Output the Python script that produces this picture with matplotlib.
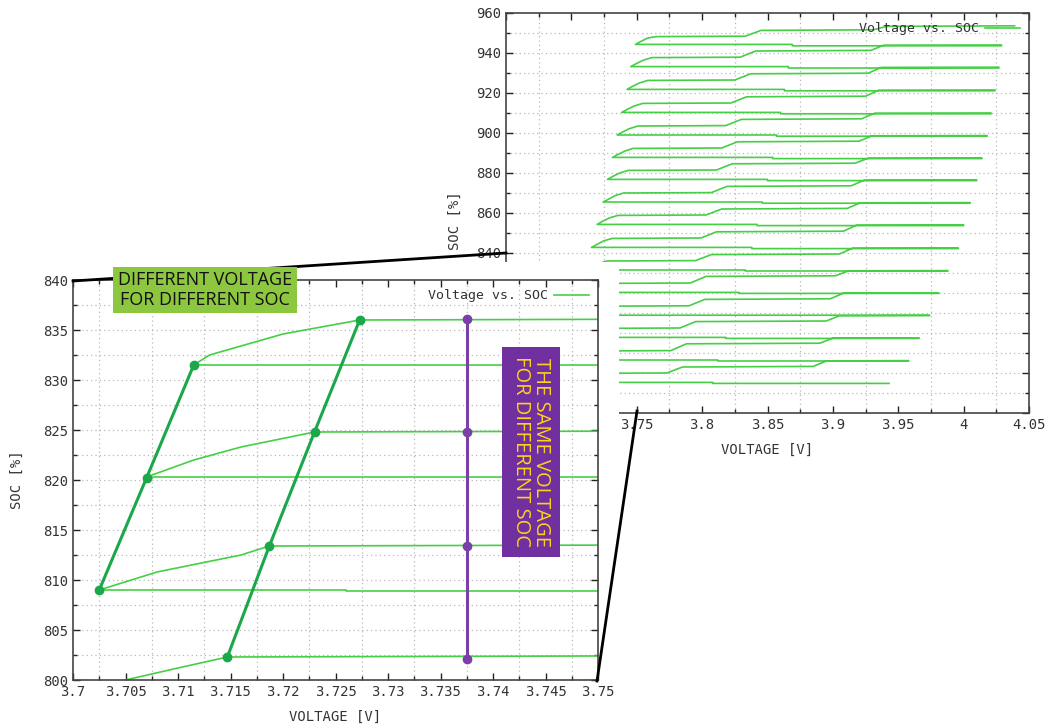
import matplotlib
matplotlib.use('Agg')
import matplotlib.pyplot as plt
from matplotlib.patches import Rectangle
from matplotlib.lines import Line2D
import numpy as np

# ---------------- data ----------------
# SOC level of each relaxation (horizontal) line and the voltage it relaxes to
soc_level = [775.3, 786.5, 797.8, 809.0, 820.3, 831.5, 842.8, 854.3, 865.5,
             876.8, 887.8, 899.0, 910.3, 921.8, 933.2, 944.3]
v_rest = [3.6890, 3.6935, 3.6980, 3.7025, 3.7070, 3.7115, 3.7154, 3.7197, 3.7243,
          3.7276, 3.7314, 3.7350, 3.7385, 3.7426, 3.7454, 3.7490]
# voltage where each relaxation line starts (right end), where it steps, and step size
v_high = [3.943, 3.958, 3.966, 3.974, 3.981, 3.988, 3.996, 4.000, 4.005,
          4.010, 4.014, 4.018, 4.021, 4.024, 4.027, 4.029]
relax_step_v = [3.808, 3.812, 3.818, 3.726, 3.828, 3.833, 3.838, 3.842, 3.846,
                3.850, 3.854, 3.857, 3.860, 3.863, 3.866, 3.869]
relax_drop = [0.5, 0.5, 0.5, 0.1, 0.5, 0.5, 0.6, 0.6, 0.6,
              0.6, 0.6, 0.6, 0.7, 0.7, 0.7, 0.7]
# charge curve break points (one per level)
kink1_v = [3.6945, 3.6990, 3.7050, 3.7080, 3.7115, 3.7130, 3.7200, 3.7240, 3.7290,
           3.7320, 3.7360, 3.7395, 3.7430, 3.7470, 3.7500, 3.7535]
kink1_soc = [776.9, 788.1, 800.0, 810.8, 822.0, 832.5, 844.4, 855.9, 867.1,
             878.4, 889.4, 900.6, 911.9, 923.4, 934.8, 945.9]
kink2_v = [3.7025, 3.7070, 3.7100, 3.7160, 3.7160, 3.7200, 3.7245, 3.7290, 3.7335,
           3.7370, 3.7410, 3.7445, 3.7480, 3.7520, 3.7550, 3.7585]
kink2_soc = [778.5, 789.8, 801.2, 812.5, 823.3, 834.6, 846.0, 857.5, 868.7,
             880.0, 891.0, 902.2, 913.5, 925.0, 936.4, 947.5]
knee_v = [3.7052, 3.7097, 3.7147, 3.7187, 3.7230, 3.7273, 3.7312, 3.7355, 3.7400,
          3.7435, 3.7472, 3.7510, 3.7545, 3.7585, 3.7615, 3.7650]
knee_soc = [779.8, 791.0, 802.3, 813.4, 824.8, 836.0, 847.3, 858.8, 870.0,
            881.3, 892.3, 903.5, 914.8, 926.3, 937.7, 948.2]
rise1_v = [3.773, 3.776, 3.783, 3.790, 3.791, 3.795, 3.799, 3.803, 3.807,
           3.811, 3.815, 3.818, 3.822, 3.825, 3.829, 3.833]
rise1_soc = [783.0, 794.6, 805.7, 816.8, 828.3, 839.2, 850.6, 862.0, 873.3,
             884.6, 895.6, 906.8, 918.1, 929.6, 941.0, 951.3]
rise2_v = [3.885, 3.890, 3.895, 3.898, 3.902, 3.905, 3.908, 3.911, 3.914,
           3.917, 3.920, 3.922, 3.925, 3.927, 3.929, 3.931]
rise2_soc = [786.0, 797.4, 808.6, 819.9, 831.1, 842.4, 853.9, 865.1, 876.4,
             887.4, 898.6, 909.9, 921.4, 932.8, 943.9, 953.3]
last_v = [3.958, 3.966, 3.974, 3.981, 3.988, 3.996, 4.000, 4.005, 4.010,
          4.014, 4.018, 4.021, 4.024, 4.027, 4.029, 4.039]
last_soc = [786.2, 797.5, 808.7, 820.0, 831.2, 842.5, 854.0, 865.2, 876.5,
            887.5, 898.7, 910.0, 921.5, 932.9, 944.0, 953.6]

# highlighted points
diff_v = [3.7025, 3.7070, 3.7115]
diff_soc = [809.0, 820.2, 831.5]
diff2_v = [3.7147, 3.7187, 3.7230, 3.7273]
diff2_soc = [802.3, 813.4, 824.8, 836.0]
same_v = [3.7375, 3.7375, 3.7375, 3.7375]
same_soc = [802.1, 813.4, 824.8, 836.1]

top_xlabels = ['', '', '3.75', '3.8', '3.85', '3.9', '3.95', '4', '4.05']
top_ylabels = ['', '', '', '', '840', '860', '880', '900', '920', '940', '960']
in_xlabels = ['3.7', '3.705', '3.71', '3.715', '3.72', '3.725', '3.73', '3.735',
              '3.74', '3.745', '3.75']
in_ylabels = ['800', '805', '810', '815', '820', '825', '830', '835', '840']

# ---------------- build the trace ----------------
tv, ts = [], []
for k in range(len(soc_level)):
    s = soc_level[k]
    # relaxation: from high voltage down to rest voltage at constant SOC
    tv += [v_high[k], relax_step_v[k], relax_step_v[k], v_rest[k]]
    ts += [s - relax_drop[k], s - relax_drop[k], s, s]
    # charge
    tv += [kink1_v[k], kink2_v[k], knee_v[k], rise1_v[k], rise1_v[k] + 0.012,
           rise2_v[k], rise2_v[k] + 0.010, last_v[k]]
    ts += [kink1_soc[k], kink2_soc[k], knee_soc[k], knee_soc[k] + 0.2, rise1_soc[k],
           rise1_soc[k] + 0.3, rise2_soc[k], last_soc[k]]

W, H = 1057, 726
fig = plt.figure(figsize=(W / 100, H / 100), dpi=100)
fig.patch.set_facecolor('white')


def px_rect(l, t, r, b):
    return [l / W, 1 - b / H, (r - l) / W, (b - t) / H]


GREEN = '#45cf45'
TICKC = '#333333'
MONO = 'DejaVu Sans Mono'
GRIDC = '#b8b8b8'


def style(ax, xmin, xmax, xmaj, ymin, ymax, ymaj, ymin_step, xlabels, ylabels):
    ax.set_xlim(xmin, xmax)
    ax.set_ylim(ymin, ymax)
    xt = np.round(np.arange(xmin, xmax + 1e-9, xmaj), 5)
    ax.set_xticks(xt)
    ax.set_xticklabels(xlabels)
    xm = np.round(np.arange(xmin + xmaj / 2, xmax, xmaj), 5)
    ax.set_xticks(xm, minor=True)
    yt = np.arange(ymin, ymax + 1e-9, ymaj)
    ax.set_yticks(yt)
    ax.set_yticklabels(ylabels)
    ym = np.arange(ymin, ymax + 1e-9, ymin_step)
    ax.set_yticks(ym, minor=True)
    for x in xm:
        ax.axvline(x, color=GRIDC, lw=0.9, ls=(0, (1, 2.5)), zorder=0.5)
    for y in ym:
        if ymin < y < ymax:
            ax.axhline(y, color=GRIDC, lw=0.9, ls=(0, (1, 2.5)), zorder=0.5)
    ax.tick_params(which='both', direction='in', top=True, right=True,
                   colors='#222222', labelcolor=TICKC, labelsize=10)
    ax.tick_params(which='major', length=5, width=1)
    ax.tick_params(which='minor', length=3, width=1)
    for lab in ax.get_xticklabels() + ax.get_yticklabels():
        lab.set_fontfamily(MONO)
    for sp in ax.spines.values():
        sp.set_color('#444444')
        sp.set_linewidth(1.2)
    ax.set_facecolor('white')


# ---------------- top (full) chart ----------------
ax_top = fig.add_axes(px_rect(506, 13, 1029, 413))
ax_top.set_zorder(0)
ax_top.plot(tv, ts, color=GREEN, lw=1.2, label='Voltage vs. SOC', zorder=2)
style(ax_top, 3.65, 4.05, 0.05, 760, 960, 20, 10, top_xlabels, top_ylabels)
ax_top.set_xlabel('VOLTAGE [V]', fontfamily=MONO, fontsize=10, color=TICKC, labelpad=8)
ax_top.set_ylabel('SOC [%]', fontfamily=MONO, fontsize=10, color=TICKC)
ax_top.yaxis.set_label_coords(-0.085, 0.48)
leg = ax_top.legend(loc='upper right', frameon=False, markerfirst=False,
                    prop={'family': MONO, 'size': 9.5}, handlelength=2.6,
                    borderaxespad=0.3, handletextpad=0.5)
for t in leg.get_texts():
    t.set_color(TICKC)

# white cover for the inset region
cover = Rectangle((0, 0), 619 / W, 1 - 262 / H, transform=fig.transFigure,
                  facecolor='white', edgecolor='none', zorder=1)
fig.add_artist(cover)

# ---------------- inset (zoomed) chart ----------------
ax_in = fig.add_axes(px_rect(73, 280, 598, 680))
ax_in.set_zorder(2)
ax_in.plot(tv, ts, color=GREEN, lw=1.2, label='Voltage vs. SOC', zorder=2)
style(ax_in, 3.70, 3.75, 0.005, 800, 840, 5, 2.5, in_xlabels, in_ylabels)
ax_in.set_xlabel('VOLTAGE [V]', fontfamily=MONO, fontsize=10, color=TICKC, labelpad=8)
ax_in.set_ylabel('SOC [%]', fontfamily=MONO, fontsize=10, color=TICKC, labelpad=14)
leg2 = ax_in.legend(loc='upper right', frameon=False, markerfirst=False,
                    prop={'family': MONO, 'size': 9.5}, handlelength=2.6,
                    borderaxespad=0.3, handletextpad=0.5)
for t in leg2.get_texts():
    t.set_color(TICKC)

DARK = '#1aa84a'
ax_in.plot(diff_v, diff_soc, color=DARK, lw=2.2, marker='o', ms=6, zorder=4, clip_on=False)
ax_in.plot(diff2_v, diff2_soc, color=DARK, lw=2.2, marker='o', ms=6, zorder=4, clip_on=False)
ax_in.plot(same_v, same_soc, color='#7a40a8', lw=2.2, marker='o', ms=6, zorder=4)

ax_in.text(3.7436, 822.8, 'THE SAME VOLTAGE\nFOR DIFFERENT SOC', rotation=270,
           ha='center', va='center', fontsize=14.5, family='Open Sans',
           color='#ffd21a', linespacing=1.0, zorder=6,
           bbox=dict(boxstyle='square,pad=0.45', facecolor='#7030a0', edgecolor='none'))

# ---------------- connector lines and green label ----------------
fig.add_artist(Line2D([73 / W, 506 / W], [1 - 281 / H, 1 - 253 / H], color='black',
                      lw=2, transform=fig.transFigure, zorder=3))
fig.add_artist(Line2D([597 / W, 637 / W], [1 - 681 / H, 1 - 411 / H], color='black',
                      lw=2, transform=fig.transFigure, zorder=5))
fig.text(205 / W, 1 - 290 / H, 'DIFFERENT VOLTAGE\nFOR DIFFERENT SOC', ha='center',
         va='center', fontsize=13, family='Open Sans', color='#111111',
         linespacing=1.1, zorder=6,
         bbox=dict(boxstyle='square,pad=0.25', facecolor='#8dc63f', edgecolor='none'))

fig.savefig('out.png', dpi=100, facecolor='white')
